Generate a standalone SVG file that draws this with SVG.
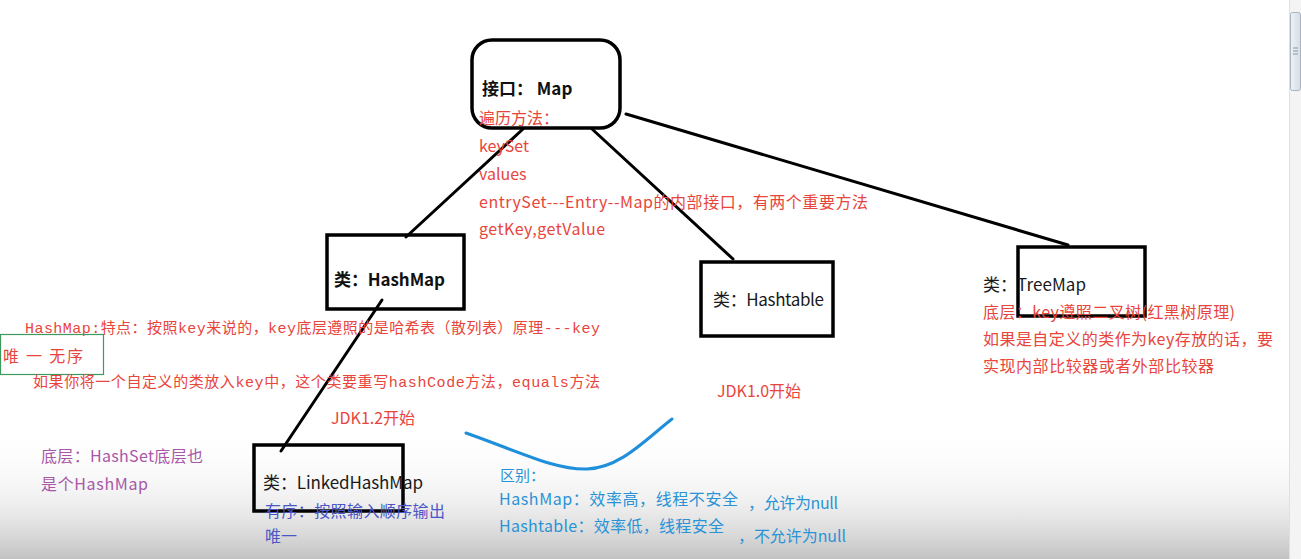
<svg xmlns="http://www.w3.org/2000/svg" width="1301" height="559" viewBox="0 0 1301 559">
  <defs>
    <linearGradient id="shade" x1="0" y1="0" x2="0" y2="1">
      <stop offset="0" stop-color="#ffffff" stop-opacity="0"/>
      <stop offset="0.55" stop-color="#e6e6e6" stop-opacity="0.6"/>
      <stop offset="1" stop-color="#c2c2c2" stop-opacity="1"/>
    </linearGradient>
    <linearGradient id="thumb" x1="0" y1="0" x2="1" y2="0">
      <stop offset="0" stop-color="#eef2f6"/>
      <stop offset="1" stop-color="#d6dde5"/>
    </linearGradient>
  </defs>
  <style>
    .box { fill: none; stroke: #000; stroke-width: 3.5; }
    .conn { stroke: #000; stroke-width: 3; fill: none; stroke-linecap: round; }
    .t { font-family: "Noto Sans CJK SC", "Noto Sans", sans-serif; font-size: 16px; }
    .mono { font-family: "Liberation Mono", "Noto Sans CJK SC", monospace; font-size: 15px; }
    .bold { font-weight: bold; font-size: 17px; fill: #111; }
    .dark { fill: #1a1a1a; font-size: 17px; }
    .red { fill: #e8453c; }
    .purple { fill: #a856a8; }
    .violet { fill: #4b56c6; }
    .blue { fill: #2a93d5; }
  </style>

  <rect x="0" y="0" width="1301" height="559" fill="#ffffff"/>
  <rect x="0" y="430" width="1289" height="129" fill="url(#shade)"/>

  <!-- scrollbar -->
  <g id="scrollbar">
    <rect x="1289" y="0" width="12" height="559" fill="#f4f4f4"/>
    <line x1="1289.5" y1="0" x2="1289.5" y2="559" stroke="#e0e0e0"/>
    <rect x="1290.5" y="12.5" width="10" height="78" rx="2" fill="url(#thumb)" stroke="#a9b4c0"/>
    <line x1="1293" y1="48" x2="1298" y2="48" stroke="#8a96a3"/>
    <line x1="1293" y1="51" x2="1298" y2="51" stroke="#8a96a3"/>
    <line x1="1293" y1="54" x2="1298" y2="54" stroke="#8a96a3"/>
  </g>

  <g id="connectors">
    <line class="conn" x1="523" y1="129" x2="406" y2="237"/>
    <line class="conn" x1="592" y1="129" x2="733" y2="259"/>
    <line class="conn" x1="626" y1="114" x2="1068" y2="245"/>
    <line class="conn" x1="382" y1="300" x2="281" y2="451"/>
    <path d="M466,433 C520,452 555,470 587,469 C620,468 645,440 672,419" fill="none" stroke="#1f8fdc" stroke-width="3" stroke-linecap="round"/>
  </g>

  <g id="map">
    <rect class="box" x="472" y="40" width="148" height="88" rx="20"/>
    <text class="t bold" x="482" y="95">接口：  Map</text>
    <text class="t red" x="479" y="124">遍历方法：</text>
    <text class="t red" x="479" y="152">keySet</text>
    <text class="t red" x="479" y="180">values</text>
    <text class="t red" x="479" y="208" textLength="389">entrySet---Entry--Map的内部接口，有两个重要方法</text>
    <text class="t red" x="479" y="235" textLength="126">getKey,getValue</text>
  </g>

  <g id="hashmap">
    <rect class="box" x="327" y="235" width="137" height="74"/>
    <text class="t bold" x="334" y="286" textLength="111">类：HashMap</text>
    <text class="mono red" x="25" y="333" textLength="575">HashMap:特点：按照key来说的，key底层遵照的是哈希表（散列表）原理---key</text>
    <rect x="0.5" y="334.5" width="103" height="40" fill="none" stroke="#3c9a5c" stroke-width="1.2"/>
    <text class="t red" x="3" y="362" textLength="80">唯 一 无序</text>
    <text class="mono red" x="33" y="387" textLength="567">如果你将一个自定义的类放入key中，这个类要重写hashCode方法，equals方法</text>
    <text class="t red" x="331" y="424">JDK1.2开始</text>
    <text class="t purple" x="41" y="462" textLength="162">底层：HashSet底层也</text>
    <text class="t purple" x="41" y="490" textLength="107">是个HashMap</text>
  </g>

  <g id="hashtable">
    <rect class="box" x="701" y="262" width="132" height="74"/>
    <text class="t dark" x="713" y="306" textLength="111">类：Hashtable</text>
    <text class="t red" x="717" y="397">JDK1.0开始</text>
  </g>

  <g id="treemap">
    <rect class="box" x="1018" y="247" width="127" height="69"/>
    <text class="t dark" x="983" y="291" textLength="103">类：TreeMap</text>
    <text class="t red" x="983" y="318" textLength="252">底层：key遵照二叉树(红黑树原理)</text>
    <text class="t red" x="983" y="345" textLength="290">如果是自定义的类作为key存放的话，要</text>
    <text class="t red" x="983" y="372" textLength="231">实现内部比较器或者外部比较器</text>
  </g>

  <g id="linkedhashmap">
    <rect class="box" x="254" y="445" width="149" height="66"/>
    <text class="t dark" x="263" y="489" textLength="160">类：LinkedHashMap</text>
    <text class="t violet" x="265" y="517" textLength="180">有序：按照输入顺序输出</text>
    <text class="t violet" x="265" y="542">唯一</text>
  </g>

  <g id="difference">
    <text class="t blue" x="500" y="481" style="font-size:15px">区别：</text>
    <text class="t blue" x="499" y="505" textLength="239">HashMap：效率高，线程不安全</text>
    <text class="t blue" x="748" y="509" textLength="90">，允许为null</text>
    <text class="t blue" x="499" y="532" textLength="225">Hashtable：效率低，线程安全</text>
    <text class="t blue" x="738" y="542" textLength="108">，不允许为null</text>
  </g>
</svg>
